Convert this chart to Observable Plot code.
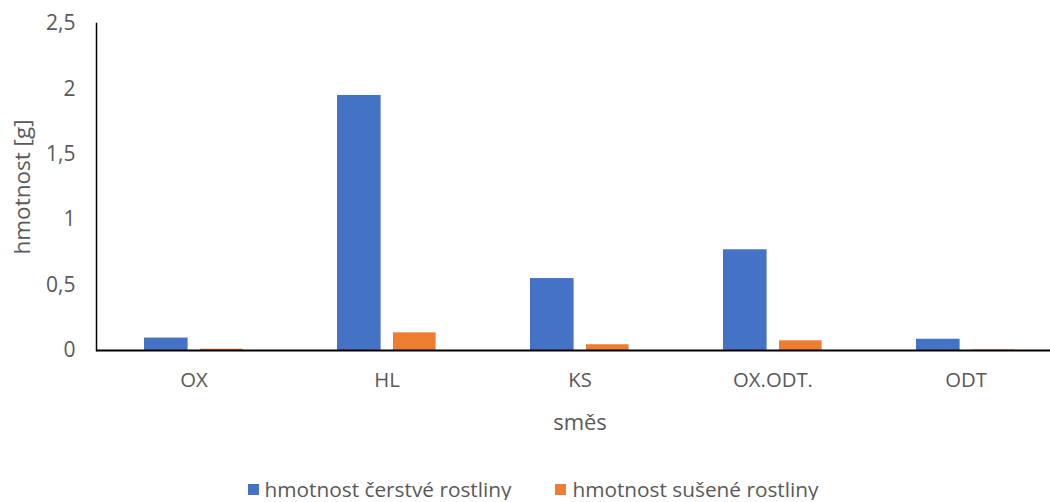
<!DOCTYPE html>
<html>
<head>
<meta charset="utf-8">
<script src="https://cdn.jsdelivr.net/npm/d3@7"></script>
<script src="https://cdn.jsdelivr.net/npm/@observablehq/plot@0.6"></script>
<style>
  body { margin: 0; background: #fff; font-family: "Open Sans", sans-serif; color: #595959; overflow: hidden; }
  #chart svg { display: block; }
  .legend { display: flex; justify-content: center; gap: 44px; font-size: 20.8px; color: #595959; margin-top: 34px; padding-left: 16px; line-height: 1; }
  .legend span.sw { display: inline-block; width: 11px; height: 11px; margin-right: 6px; }
  .legend div { display: flex; align-items: center; }
</style>
</head>
<body>
<div id="chart"></div>
<div class="legend" id="legend"></div>
<script>
const categories = ["OX", "HL", "KS", "OX.ODT.", "ODT"];
const fresh = [0.095, 1.95, 0.55, 0.77, 0.086];
const dried = [0.01, 0.135, 0.044, 0.074, 0.004];
const seriesNames = ["hmotnost čerstvé rostliny", "hmotnost sušené rostliny"];
const seriesColors = ["#4472C4", "#ED7D31"];
const yTicks = [0, 0.5, 1, 1.5, 2, 2.5];

const data = categories.map((c, i) => ({cat: c, fresh: fresh[i], dried: dried[i]}));
const fmt = d => String(d).replace(".", ",");

const plot = Plot.plot({
  width: 1050,
  height: 445,
  marginTop: 23,
  marginBottom: 95,
  marginLeft: 96,
  marginRight: -13,
  style: {fontFamily: "Open Sans, sans-serif", fontSize: "20px", color: "#595959"},
  x: {domain: categories, padding: 0, label: null},
  y: {domain: [0, 2.5], label: null},
  marks: [
    Plot.barY(data, {x: "cat", y: "fresh", fill: seriesColors[0], insetLeft: 47, insetRight: 102.4}),
    Plot.barY(data, {x: "cat", y: "dried", fill: seriesColors[1], insetLeft: 103, insetRight: 47.4}),
    Plot.frame({anchor: "left", stroke: "#000", strokeWidth: 1.5}),
    Plot.ruleY([0], {stroke: "#000", strokeWidth: 2}),
    Plot.axisY({ticks: yTicks, tickFormat: fmt, tickSize: 0, tickPadding: 21, label: null, fill: "#595959", fontSize: 21}),
    Plot.axisX({tickSize: 0, tickPadding: 22, label: null, fill: "#595959", fontSize: 20.3}),
    Plot.text(["směs"], {frameAnchor: "bottom", dy: 79, dx: 0, fill: "#595959", fontSize: 22}),
    Plot.text(["hmotnost [g]"], {frameAnchor: "left", textAnchor: "middle", dx: -74, rotate: -90, fill: "#595959", fontSize: 22.5})
  ]
});
document.getElementById("chart").append(plot);

const legend = document.getElementById("legend");
seriesNames.forEach((n, i) => {
  const d = document.createElement("div");
  d.innerHTML = `<span class="sw" style="background:${seriesColors[i]}"></span>${n}`;
  legend.append(d);
});
</script>
</body>
</html>
